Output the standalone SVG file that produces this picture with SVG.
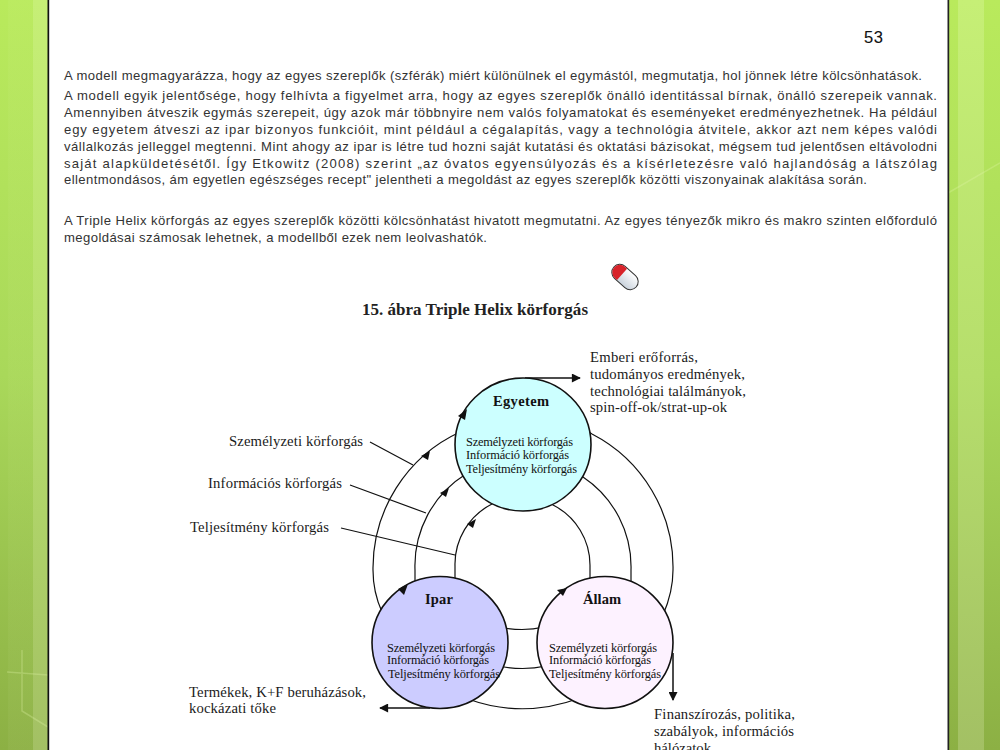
<svg xmlns="http://www.w3.org/2000/svg" width="1000" height="750" viewBox="0 0 1000 750">
<style>
.b{font:13.1px "Liberation Sans",Arial,sans-serif;fill:#333}
.s{font:14.7px "Liberation Serif","Times New Roman",serif;fill:#1a1a1a}
.c{font:12.4px "Liberation Serif","Times New Roman",serif;fill:#111}
.h{font:bold 14.5px "Liberation Serif","Times New Roman",serif;fill:#111}
.l{fill:none;stroke:#111;stroke-width:1.2}
.a{fill:none;stroke:#111;stroke-width:1.5}
.t{fill:#111}
.n{stroke:#111;stroke-width:1.6}
.g{stroke:#e2f5a8;fill:none;stroke-width:1.5;opacity:.3}
</style>
<defs>
<linearGradient id="sh" x1="0" y1="0" x2="0" y2="1"><stop offset="0" stop-color="#b9ea5c"/><stop offset=".5" stop-color="#a9d85a"/><stop offset="1" stop-color="#8cb044"/></linearGradient>
<linearGradient id="sl" x1="0" y1="0" x2="0" y2="1"><stop offset="0" stop-color="#c6ef76"/><stop offset=".5" stop-color="#b6de6c"/><stop offset="1" stop-color="#a3c064"/></linearGradient>
<linearGradient id="cap" x1="0" y1="0" x2="0" y2="1"><stop offset="0" stop-color="#fff"/><stop offset="1" stop-color="#c9d2dc"/></linearGradient>
<marker id="m" viewBox="0 0 10 10" refX="9" refY="5" markerWidth="10" markerHeight="9" markerUnits="userSpaceOnUse" orient="auto"><path d="M0 0L10 5L0 10Z" fill="#111"/></marker>
</defs>
<g id="background">
<rect width="1000" height="750" fill="#fff"/>
<rect x="0" y="0" width="48" height="750" fill="url(#sh)"/>
<rect x="8" y="0" width="25" height="750" fill="url(#sl)" opacity=".2"/>
<rect x="33" y="0" width="15" height="750" fill="url(#sl)"/>
<rect x="949" y="0" width="51" height="750" fill="url(#sh)"/>
<rect x="958" y="0" width="26" height="750" fill="url(#sl)"/>
<path class="g" d="M7 672L48 675M22 650V696M22 696V711L48 727M948 193L1000 163"/>
<rect x="47.500" y="0" width="1.700" height="750" fill="#111"/>
<rect x="947.500" y="0" width="1.700" height="750" fill="#222"/>
</g>
<g id="page-text">
<text x="864" y="43" textLength="19" style="font:16.500px 'Liberation Sans',Arial,sans-serif;fill:#111;stroke:#111;stroke-width:.12">53</text>
<text class="b" x="64" y="80" textLength="858">A modell megmagyarázza, hogy az egyes szereplők (szférák) miért különülnek el egymástól, megmutatja, hol jönnek létre kölcsönhatások.</text>
<text class="b" x="64" y="100" textLength="873">A modell egyik jelentősége, hogy felhívta a figyelmet arra, hogy az egyes szereplők önálló identitással bírnak, önálló szerepeik vannak.</text>
<text class="b" x="64" y="117" textLength="873">Amennyiben átveszik egymás szerepeit, úgy azok már többnyire nem valós folyamatokat és eseményeket eredményezhetnek. Ha például</text>
<text class="b" x="64" y="134" textLength="873">egy egyetem átveszi az ipar bizonyos funkcióit, mint például a cégalapítás, vagy a technológia átvitele, akkor azt nem képes valódi</text>
<text class="b" x="64" y="151" textLength="873">vállalkozás jelleggel megtenni. Mint ahogy az ipar is létre tud hozni saját kutatási és oktatási bázisokat, mégsem tud jelentősen eltávolodni</text>
<text class="b" x="64" y="168" textLength="873">saját alapküldetésétől. Így Etkowitz (2008) szerint „az óvatos egyensúlyozás és a kísérletezésre való hajlandóság a látszólag</text>
<text class="b" x="64" y="184" textLength="803">ellentmondásos, ám egyetlen egészséges recept" jelentheti a megoldást az egyes szereplők közötti viszonyainak alakítása során.</text>
<text class="b" x="64" y="225" textLength="873">A Triple Helix körforgás az egyes szereplők közötti kölcsönhatást hivatott megmutatni. Az egyes tényezők mikro és makro szinten előforduló</text>
<text class="b" x="64" y="242" textLength="423">megoldásai számosak lehetnek, a modellből ezek nem leolvashatók.</text>
</g>
<g id="mouse-icon" transform="rotate(42 625 277)">
<rect x="610" y="269" width="30" height="16" rx="8" fill="url(#cap)" stroke="#333" stroke-width="1"/>
<path d="M618 269.500H621V284.500H618A7.500 7.500 0 0 1 618 269.500Z" fill="#d8232a"/>
</g>
<text x="362" y="315" textLength="226" style="font:bold 17px 'Liberation Serif','Times New Roman',serif;fill:#222">15. ábra Triple Helix körforgás</text>
<g id="connectors">
<path class="l" d="M460 432A150 150 0 0 0 373 570Q373 592 382 612"/>
<path class="l" d="M466 474A108 108 0 0 0 415 570V584"/>
<path class="l" d="M496 500L492 504A67.500 67.500 0 0 0 455 566V582"/>
<path class="l" d="M586 430L592 434A150 150 0 0 1 673 570Q673 592 663 615"/>
<path class="l" d="M578 473L583 477A108 108 0 0 1 631 570V584"/>
<path class="l" d="M549 501L553 505A67.500 67.500 0 0 1 590 566V582"/>
<path class="l" d="M468 699Q523 719 580 698"/>
<path class="l" d="M498 666Q523 671 546 666"/>
<path class="l" d="M498 627Q523 632 544 627"/>
<path class="l" d="M370 442L413 465M350 485L426 513M341 528L455 555"/>
<path class="a" d="M525 378H580" marker-end="url(#m)"/>
<path class="a" d="M430 708H380" marker-end="url(#m)"/>
<path class="a" d="M673 653V700" marker-end="url(#m)"/>
</g>
<g id="node-egyetem">
<ellipse class="n" cx="523" cy="444.500" rx="68" ry="66.500" fill="#ccffff"/>
<text class="h" x="493" y="406" textLength="56">Egyetem</text>
<text class="c" x="466" y="446" textLength="107">Személyzeti körforgás</text>
<text class="c" x="466" y="459" textLength="103">Információ körforgás</text>
<text class="c" x="466" y="473" textLength="111">Teljesítmény körforgás</text>
</g>
<g id="node-ipar">
<ellipse class="n" cx="440" cy="642.500" rx="68" ry="66" fill="#ccccff"/>
<text class="h" x="425" y="604" textLength="28">Ipar</text>
<text class="c" x="387" y="652" textLength="108">Személyzeti körforgás</text>
<text class="c" x="387" y="664" textLength="102">Információ körforgás</text>
<text class="c" x="388" y="678" textLength="112">Teljesítmény körforgás</text>
</g>
<g id="node-allam">
<ellipse class="n" cx="605" cy="642.500" rx="68" ry="66" fill="#fdf2ff"/>
<text class="h" x="583" y="604" textLength="38">Állam</text>
<text class="c" x="549" y="652" textLength="108">Személyzeti körforgás</text>
<text class="c" x="549" y="664" textLength="102">Információ körforgás</text>
<text class="c" x="549" y="678" textLength="112">Teljesítmény körforgás</text>
</g>
<g id="connector-arrowheads">
<path class="t" d="M467 409L458 416L465 420Z"/>
<path class="t" d="M430 451L421 456L428 460Z"/>
<path class="t" d="M449 488L440 493L446 497Z"/>
<path class="t" d="M476 519L467 524L473 528Z"/>
<path class="t" d="M408 584L398 589L404 595Z"/>
<path class="t" d="M567 588L557 590L563 596Z"/>
</g>
<g id="labels">
<text class="s" x="229" y="446" textLength="134">Személyzeti körforgás</text>
<text class="s" x="208" y="488" textLength="134">Információs körforgás</text>
<text class="s" x="190" y="532" textLength="139">Teljesítmény körforgás</text>
<text class="s" x="590" y="362" textLength="108">Emberi erőforrás,</text>
<text class="s" x="590" y="379" textLength="155">tudományos eredmények,</text>
<text class="s" x="590" y="396" textLength="156">technológiai találmányok,</text>
<text class="s" x="590" y="412" textLength="137">spin-off-ok/strat-up-ok</text>
<text class="s" x="189" y="697" textLength="177">Termékek, K+F beruházások,</text>
<text class="s" x="189" y="713" textLength="87">kockázati tőke</text>
<text class="s" x="654" y="719" textLength="141">Finanszírozás, politika,</text>
<text class="s" x="654" y="736" textLength="140">szabályok, információs</text>
<text class="s" x="654" y="753" textLength="57">hálózatok</text>
</g>
</svg>
